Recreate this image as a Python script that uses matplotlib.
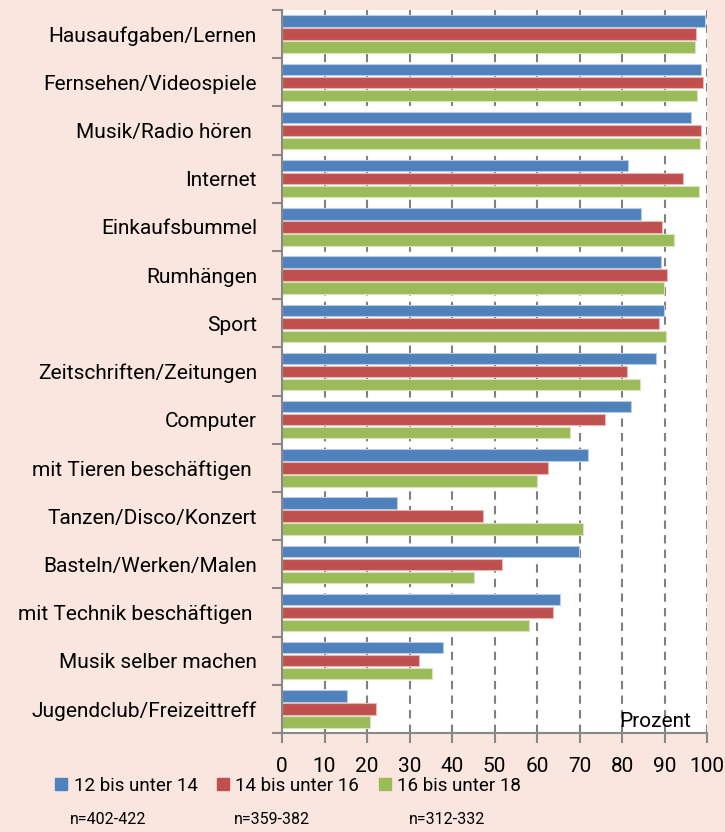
import matplotlib.pyplot as plt
from matplotlib.lines import Line2D
import numpy as np

kategorien = [
    "Hausaufgaben/Lernen", "Fernsehen/Videospiele", "Musik/Radio hören ",
    "Internet", "Einkaufsbummel", "Rumhängen", "Sport",
    "Zeitschriften/Zeitungen", "Computer", "mit Tieren beschäftigen ",
    "Tanzen/Disco/Konzert", "Basteln/Werken/Malen", "mit Technik beschäftigen ",
    "Musik selber machen", "Jugendclub/Freizeittreff",
]
werte_12_14 = [99.5, 98.7, 96.3, 81.5, 84.5, 89.2, 89.8, 88.1, 82.1, 72.0, 27.1, 69.9, 65.4, 37.9, 15.2]
werte_14_16 = [97.3, 99.1, 98.6, 94.3, 89.3, 90.5, 88.8, 81.2, 75.9, 62.5, 47.2, 51.7, 63.8, 32.3, 22.0]
werte_16_18 = [97.1, 97.7, 98.4, 98.1, 92.2, 89.8, 90.3, 84.2, 67.7, 60.0, 70.8, 45.2, 58.2, 35.2, 20.7]
serien = ["12 bis unter 14", "14 bis unter 16", "16 bis unter 18"]
stichproben = ["n=402-422", "n=359-382", "n=312-332"]
farben = ["#4f81bd", "#c0504d", "#9bbb59"]
kanten = ["#b8cce4", "#e6b9b8", "#d7e4bd"]

plt.rcParams['font.family'] = ['Roboto', 'DejaVu Sans']

fig = plt.figure(figsize=(7.25, 8.32), dpi=100, facecolor="#f9e7df")
ax = fig.add_axes([282 / 725, 1 - 733 / 832, 425 / 725, 723 / 832])
ax.set_facecolor("white")

y = np.arange(len(kategorien))
abstand = 0.27
hoehe = 0.235
for i, werte in enumerate([werte_12_14, werte_14_16, werte_16_18]):
    ax.barh(y + (i - 1) * abstand, werte, height=hoehe, color=farben[i],
            edgecolor=kanten[i], linewidth=0.8, zorder=3)

ax.set_xlim(0, 100)
ax.set_ylim(len(kategorien) - 0.5, -0.5)
ax.set_xticks(np.arange(0, 101, 10))
ax.set_yticks(y)
ax.set_yticklabels(kategorien)
ax.set_yticks(np.arange(-0.5, len(kategorien), 1), minor=True)
ax.tick_params(axis='y', which='major', length=0, pad=18, labelsize=15)
ax.tick_params(axis='y', which='minor', length=7, width=1.5, color="#888888")
ax.tick_params(axis='x', length=7, width=1.5, color="#888888", pad=10, labelsize=15)

ax.grid(axis='x', linestyle=(0, (4, 3)), color="#808080", linewidth=1.5, zorder=1)
for s in ["top", "right"]:
    ax.spines[s].set_visible(False)
for s in ["left", "bottom"]:
    ax.spines[s].set_color("#888888")
    ax.spines[s].set_linewidth(1.5)
    ax.spines[s].set_zorder(4)

ax.text(96.3, 14.45, "Prozent", ha='right', va='bottom', fontsize=15, zorder=5)

# Legende: drei Einträge einzeln platziert, darunter die Stichprobengrößen
for x_px, c, s in zip([54, 215, 377], farben, serien):
    h = Line2D([], [], marker='s', linestyle='none', markersize=8.5,
               markerfacecolor=c, markeredgecolor=c)
    fig.legend([h], [s], loc='center left', bbox_to_anchor=(x_px / 725, 1 - 786 / 832),
               frameon=False, fontsize=13.5, handlelength=0.8, handletextpad=0.25,
               borderpad=0, borderaxespad=0)

for x, t in zip([108, 272, 447], stichproben):
    fig.text(x / 725, 1 - 820 / 832, t, ha='center', va='center', fontsize=11.5)

fig.savefig("out.png", dpi=100, facecolor=fig.get_facecolor())
